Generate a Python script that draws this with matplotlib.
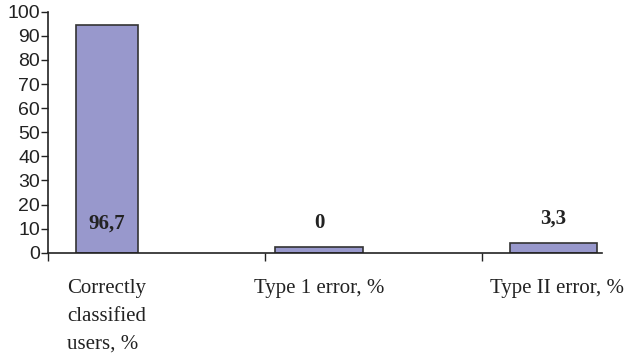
import numpy as np
import matplotlib
matplotlib.use("Agg")
import matplotlib.pyplot as plt

# bar heights as drawn in the picture, and the labels printed on them
categories = ["Correctly\nclassified\nusers, %", "Type 1 error, %", "Type II error, %"]
bar_heights = [94.5, 2.5, 4.2]
bar_labels = ["96,7", "0", "3,3"]
y_ticks = list(range(0, 101, 10))

fig = plt.figure(figsize=(6.28, 3.54), dpi=100)
ax = fig.add_axes([0.076, 0.286, 0.8826, 0.681])

# layout: bars are not evenly placed in the original chart
x = np.arange(len(categories))
shift = [0.0, -0.023, 0.055]
centers = x + np.array(shift)
widths = [0.285, 0.405, 0.40]
ax.bar(centers, bar_heights, width=widths, color="#9898cc", edgecolor="#333333",
       linewidth=1.2, zorder=2)

# value labels: above small bars, inside the tall one
for xi, h, lab in zip(centers, bar_heights, bar_labels):
    y = h + 9.8 if h + 9.8 < 100 else 12.3
    ax.text(xi, y, lab, ha="center", va="center", fontsize=15,
            fontweight="bold", family="Liberation Serif", color="#222222")

ax.set_ylim(0, 100)
ax.set_xlim(-0.273, 2.28)
ax.set_yticks(y_ticks)
ax.set_yticklabels([str(v) for v in y_ticks], family="Liberation Sans",
                   fontsize=14, color="#222222")
ax.tick_params(axis="y", direction="out", length=5, width=1, pad=0.5,
               color="#222222")

# category boundary ticks on the x axis, names centred under the bars
ax.set_xticks(x - 0.273)
ax.set_xticklabels([])
ax.tick_params(axis="x", direction="out", length=6, width=1, color="#222222")
label_shift = [0.0, 0.0, 0.02]
for xi, dx, name in zip(centers, label_shift, categories):
    ax.text(xi + dx, -11.0, name, ha="center", va="top", multialignment="left",
            fontsize=15, family="Liberation Serif", color="#222222",
            linespacing=1.6, transform=ax.transData, clip_on=False)

for s in ["top", "right"]:
    ax.spines[s].set_visible(False)
for s in ["left", "bottom"]:
    ax.spines[s].set_color("#222222")
    ax.spines[s].set_linewidth(1.2)

fig.savefig("out.png", dpi=100)
